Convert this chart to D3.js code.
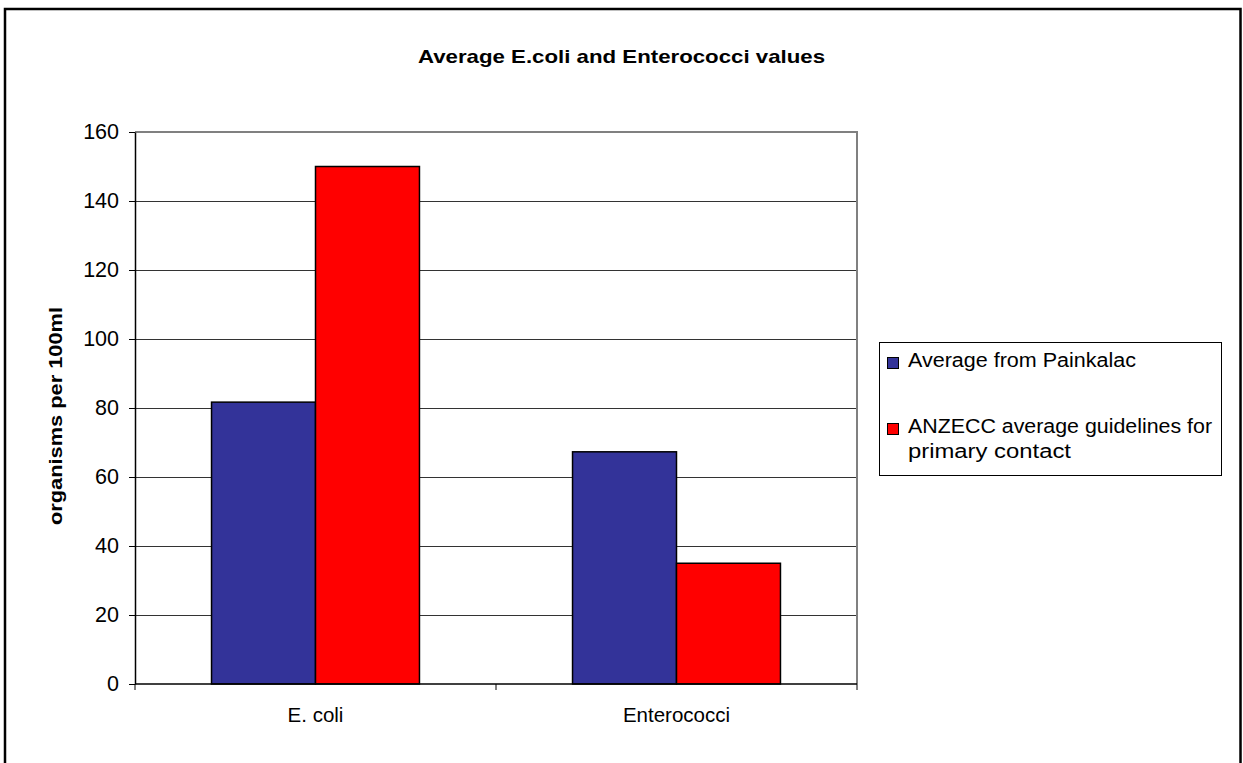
<!DOCTYPE html>
<html>
<head>
<meta charset="utf-8">
<script src="https://cdn.jsdelivr.net/npm/d3@7"></script>
<style>
  html, body { margin: 0; padding: 0; background: #fff; }
  svg { display: block; font-family: "Liberation Sans", Arial, sans-serif; }
</style>
</head>
<body>
<svg id="chart" width="1243" height="763"></svg>
<script>
// Bacterial counts, organisms per 100 ml
const categories = ["E. coli", "Enterococci"];
const seriesNames = ["Average from Painkalac", "ANZECC average guidelines for primary contact"];
const painkalac = [81.7, 67.3];
const anzecc = [150, 35];
const yTicks = [0, 20, 40, 60, 80, 100, 120, 140, 160];
const colors = ["#333399", "#ff0000"];

const svg = d3.select("#chart");
const plot = { left: 135, right: 857, top: 132, bottom: 684 };

// chart frame
svg.append("rect")
  .attr("x", 5).attr("y", 9)
  .attr("width", 1235.5).attr("height", 820)
  .attr("fill", "#fff").attr("stroke", "#000").attr("stroke-width", 2.5);

// title
svg.append("text")
  .attr("x", 621.5).attr("y", 63)
  .attr("text-anchor", "middle")
  .attr("font-weight", "bold").attr("font-size", 18.5)
  .attr("textLength", 407).attr("lengthAdjust", "spacingAndGlyphs")
  .text("Average E.coli and Enterococci values");

const y = d3.scaleLinear().domain([0, 160]).range([plot.bottom, plot.top]);
const x0 = d3.scaleBand().domain(categories)
  .range([plot.left, plot.right])
  .paddingInner(0.424).paddingOuter(0.212);
const x1 = d3.scaleBand().domain([0, 1]).range([0, x0.bandwidth()]).padding(0);

// gridlines
svg.append("g")
  .attr("shape-rendering", "crispEdges")
  .selectAll("line")
  .data(yTicks.filter(d => d > 0))
  .join("line")
  .attr("x1", plot.left).attr("x2", plot.right)
  .attr("y1", d => y(d)).attr("y2", d => y(d))
  .attr("stroke", "#333").attr("stroke-width", 1);

// plot area border (top and right)
svg.append("path")
  .attr("d", `M${plot.left},${plot.top}H${plot.right}V${plot.bottom}`)
  .attr("fill", "none").attr("stroke", "#808080").attr("stroke-width", 2);

// bars
const rows = categories.map((c, i) => ({ cat: c, vals: [painkalac[i], anzecc[i]] }));
svg.append("g")
  .selectAll("g")
  .data(rows)
  .join("g")
  .attr("transform", d => `translate(${x0(d.cat)},0)`)
  .selectAll("rect")
  .data(d => d.vals.map((v, s) => ({ v, s })))
  .join("rect")
  .attr("x", d => x1(d.s))
  .attr("y", d => y(d.v))
  .attr("width", x1.bandwidth())
  .attr("height", d => y(0) - y(d.v))
  .attr("fill", d => colors[d.s])
  .attr("stroke", "#000").attr("stroke-width", 1.5);

// y axis
const yAxis = d3.axisLeft(y).tickValues(yTicks).tickSize(6).tickPadding(10).tickSizeOuter(0);
const gy = svg.append("g").attr("transform", `translate(${plot.left},0)`).call(yAxis);
gy.select(".domain").attr("stroke", "#000").attr("stroke-width", 1.5);
gy.selectAll(".tick line").attr("stroke", "#000").attr("shape-rendering", "crispEdges");
gy.selectAll(".tick text")
  .attr("font-size", 21.5).attr("fill", "#000")
  .attr("font-family", "Liberation Sans, Arial, sans-serif");

// x axis with ticks at category boundaries
const gx = svg.append("g").attr("transform", `translate(0,${plot.bottom})`);
gx.append("line")
  .attr("x1", plot.left).attr("x2", plot.right)
  .attr("stroke", "#000").attr("stroke-width", 1.5);
const bounds = [plot.left, ...categories.map(c => x0(c) - x0.step() * x0.paddingInner() / 2 + x0.step())];
gx.selectAll("line.tk")
  .data(bounds)
  .join("line").attr("class", "tk")
  .attr("x1", d => d).attr("x2", d => d)
  .attr("y1", 0).attr("y2", 6)
  .attr("stroke", "#000");
gx.selectAll("text")
  .data(categories)
  .join("text")
  .attr("x", d => x0(d) + x0.bandwidth() / 2)
  .attr("y", 38)
  .attr("text-anchor", "middle")
  .attr("font-size", 20.5)
  .text(d => d);

// y axis title
svg.append("text")
  .attr("transform", "translate(62,416) rotate(-90)")
  .attr("text-anchor", "middle")
  .attr("font-weight", "bold").attr("font-size", 18.5)
  .attr("textLength", 218).attr("lengthAdjust", "spacingAndGlyphs")
  .text("organisms per 100ml");

// legend
const lg = svg.append("g");
lg.append("rect")
  .attr("x", 879.5).attr("y", 342.5)
  .attr("width", 342).attr("height", 133)
  .attr("fill", "#fff").attr("stroke", "#000").attr("stroke-width", 1);
const legendLines = [[seriesNames[0]], ["ANZECC average guidelines for", "primary contact"]];
const legendWidths = [[228], [304, 163]];
const legendY = [367, 433];
legendLines.forEach((lines, i) => {
  lg.append("rect")
    .attr("x", 887.5).attr("y", legendY[i] - 9.5)
    .attr("width", 11).attr("height", 11)
    .attr("fill", colors[i]).attr("stroke", "#000").attr("stroke-width", 1);
  lines.forEach((t, j) => {
    lg.append("text")
      .attr("x", 908).attr("y", legendY[i] + j * 25)
      .attr("font-size", 19.5)
      .attr("textLength", legendWidths[i][j]).attr("lengthAdjust", "spacingAndGlyphs")
      .text(t);
  });
});
</script>
</body>
</html>
